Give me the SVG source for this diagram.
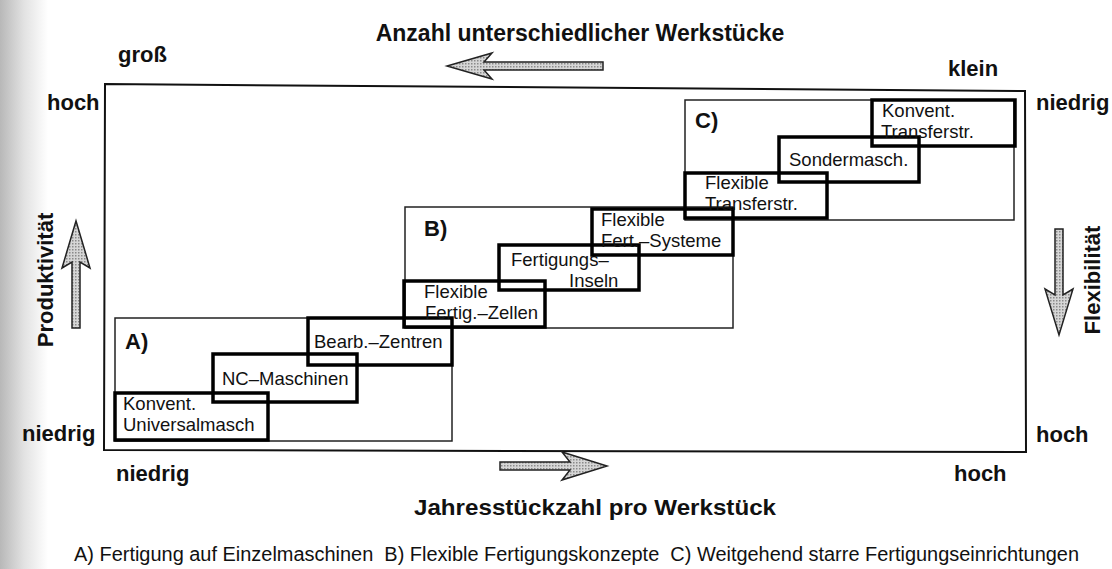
<svg xmlns="http://www.w3.org/2000/svg" width="1112" height="569" viewBox="0 0 1112 569">
  <defs>
    <linearGradient id="edge" x1="0" y1="0" x2="1" y2="0">
      <stop offset="0" stop-color="#b8b8b8"/>
      <stop offset="0.5" stop-color="#e2e2e2"/>
      <stop offset="1" stop-color="#ffffff"/>
    </linearGradient>
    <pattern id="dots" width="3" height="3" patternUnits="userSpaceOnUse">
      <rect width="3" height="3" fill="#d6d6d6"/>
      <rect width="1.5" height="1.5" fill="#8a8a8a"/>
    </pattern>
    <style>
      .bold { font-family: "Liberation Sans", Arial, sans-serif; font-weight: bold; font-size: 22px; fill: #111; }
      .big { font-size: 23px; }
      .lbl { font-family: "Liberation Sans", Arial, sans-serif; font-size: 18.5px; fill: #111; }
      .cap { font-family: "Liberation Sans", Arial, sans-serif; font-size: 20px; fill: #111; }
      .step { fill: none; stroke: #000; stroke-width: 3.5; }
      .group { fill: none; stroke: #222; stroke-width: 1.5; }
      .arrow { fill: url(#dots); stroke: #222; stroke-width: 1.5; stroke-linejoin: miter; }
    </style>
  </defs>
  <rect width="1112" height="569" fill="#fff"/>
  <rect x="0" y="0" width="48" height="569" fill="url(#edge)"/>

  <!-- outer frame -->
  <path d="M105,84 L1025,91 L1026,452 L104,450 Z" fill="none" stroke="#111" stroke-width="2"/>

  <!-- axis labels -->
  <text class="bold big" x="580" y="41" text-anchor="middle">Anzahl unterschiedlicher Werkstücke</text>
  <text class="bold" x="118" y="62">groß</text>
  <text class="bold" x="948" y="76">klein</text>
  <text class="bold" x="47" y="110">hoch</text>
  <text class="bold" x="1036" y="110">niedrig</text>
  <text class="bold" x="22" y="441">niedrig</text>
  <text class="bold" x="1036" y="442">hoch</text>
  <text class="bold" x="116" y="481">niedrig</text>
  <text class="bold" x="954" y="481">hoch</text>
  <text class="bold" x="595" y="515" text-anchor="middle" textLength="362" lengthAdjust="spacingAndGlyphs">Jahresstückzahl pro Werkstück</text>
  <text class="bold" transform="translate(53,280) rotate(-90)" text-anchor="middle">Produktivität</text>
  <text class="bold" transform="translate(1100,280) rotate(-90)" text-anchor="middle">Flexibilität</text>
  <text class="cap" x="74" y="561" textLength="1005" lengthAdjust="spacingAndGlyphs" xml:space="preserve">A) Fertigung auf Einzelmaschinen  B) Flexible Fertigungskonzepte  C) Weitgehend starre Fertigungseinrichtungen</text>

  <!-- arrows -->
  <g id="arrows">
    <path class="arrow" d="M603,62 L484,62 L492,53 L447,66 L492,79 L484,70 L603,70 Z"/>
    <path class="arrow" d="M500,462 L570,462 L562,452 L607,466 L562,480 L570,470 L500,470 Z"/>
    <path class="arrow" d="M72,328 L72,262 L62,268 L76,221 L90,268 L80,262 L80,328 Z"/>
    <path class="arrow" d="M1055,229 L1055,295 L1045,289 L1059,335 L1073,289 L1063,295 L1063,229 Z"/>
  </g>

  <!-- groups -->
  <g id="groupA">
    <rect class="group" x="115" y="318" width="337" height="123"/>
    <text class="bold" x="125" y="349">A)</text>
  </g>
  <g id="groupB">
    <rect class="group" x="405" y="207" width="328" height="121"/>
    <text class="bold" x="424" y="236">B)</text>
  </g>
  <g id="groupC">
    <rect class="group" x="685" y="100" width="329" height="120"/>
    <text class="bold" x="695" y="128">C)</text>
  </g>

  <!-- steps -->
  <g id="n1">
    <rect class="step" x="115" y="393" width="153" height="47"/>
    <text class="lbl" x="123" y="410">Konvent.</text>
    <text class="lbl" x="123" y="431">Universalmasch</text>
  </g>
  <g id="n2">
    <rect class="step" x="213" y="354" width="144" height="48"/>
    <text class="lbl" x="222" y="385">NC–Maschinen</text>
  </g>
  <g id="n3">
    <rect class="step" x="308" y="318" width="144" height="47"/>
    <text class="lbl" x="314" y="348">Bearb.–Zentren</text>
  </g>
  <g id="n4">
    <rect class="step" x="404" y="281" width="141" height="46"/>
    <text class="lbl" x="424" y="298">Flexible</text>
    <text class="lbl" x="425" y="319">Fertig.–Zellen</text>
  </g>
  <g id="n5">
    <rect class="step" x="499" y="245" width="140" height="45"/>
    <text class="lbl" x="511" y="266">Fertigungs–</text>
    <text class="lbl" x="569" y="287">Inseln</text>
  </g>
  <g id="n6">
    <rect class="step" x="592" y="209" width="141" height="46"/>
    <text class="lbl" x="601" y="226">Flexible</text>
    <text class="lbl" x="601" y="247">Fert.–Systeme</text>
  </g>
  <g id="n7">
    <rect class="step" x="685" y="173" width="142" height="45"/>
    <text class="lbl" x="705" y="189">Flexible</text>
    <text class="lbl" x="705" y="210">Transferstr.</text>
  </g>
  <g id="n8">
    <rect class="step" x="779" y="137" width="140" height="45"/>
    <text class="lbl" x="789" y="166">Sondermasch.</text>
  </g>
  <g id="n9">
    <rect class="step" x="872" y="100" width="143" height="46"/>
    <text class="lbl" x="882" y="117">Konvent.</text>
    <text class="lbl" x="881" y="138">Transferstr.</text>
  </g>
</svg>
